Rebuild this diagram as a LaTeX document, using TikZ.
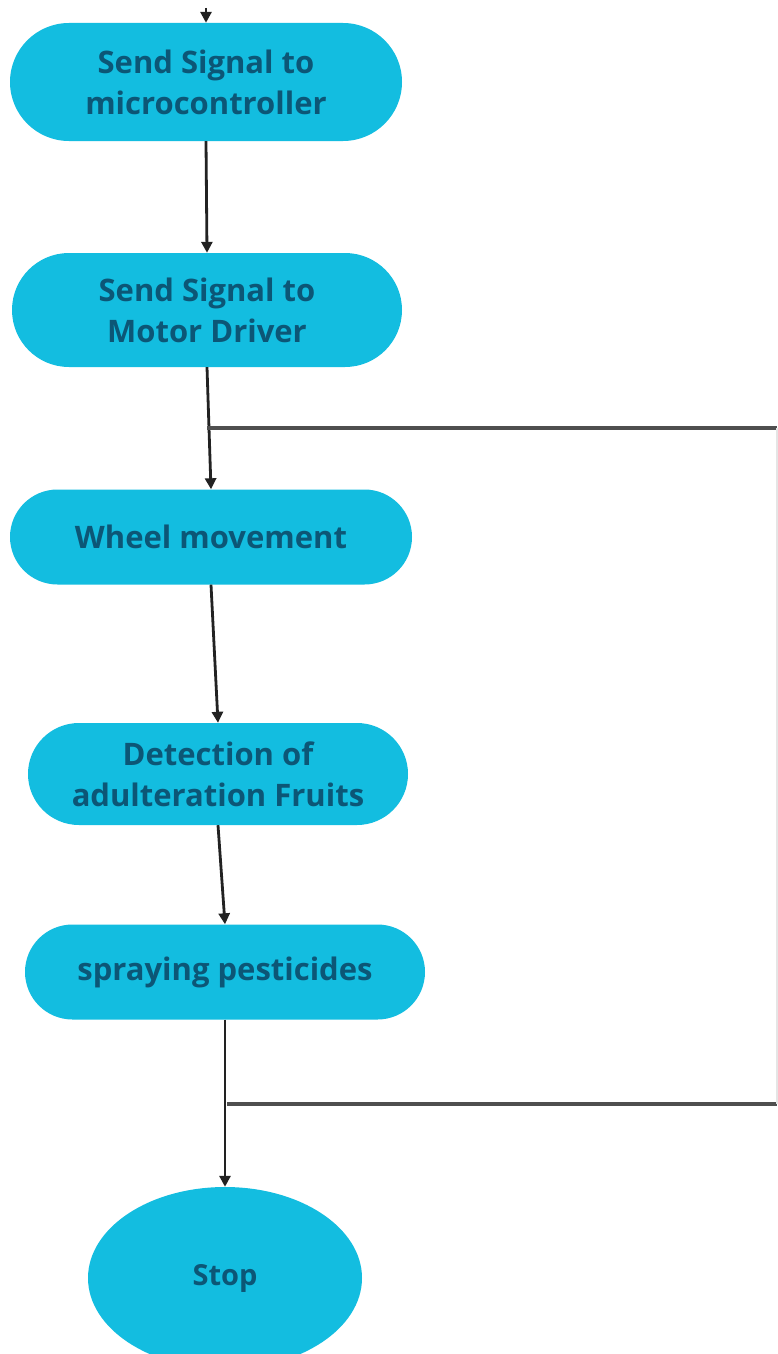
\documentclass[tikz,border=0pt]{standalone}
\usepackage{fontspec}
\setmainfont{Open Sans}
\usetikzlibrary{arrows.meta,shapes.misc,shapes.geometric}
\definecolor{boxfill}{HTML}{13BDE0}
\definecolor{boxtext}{HTML}{0C5676}
\definecolor{flowline}{HTML}{222222}
\definecolor{loopline}{HTML}{4F4F4F}
\begin{document}
\begin{tikzpicture}[x=1pt,y=-1pt,
  stepbox/.style={fill=boxfill, rounded rectangle, text=boxtext,
    font=\fontsize{31}{41}\selectfont\bfseries, align=center, inner sep=0pt},
  flow/.style={draw=flowline, line width=2.8pt,
    -{Triangle[length=11pt,width=11pt]}},
  loop/.style={draw=loopline, line width=3.4pt}]
\useasboundingbox (0,0) rectangle (777,1354);
\fill[white] (0,0) rectangle (777,1354);

% process steps
\node[stepbox, minimum width=392pt, minimum height=118pt] (n1) at (206,82)
  {Send Signal to\\microcontroller};
\node[stepbox, minimum width=390pt, minimum height=114pt] (n2) at (207,310)
  {Send Signal to\\Motor Driver};
\node[stepbox, minimum width=402pt, minimum height=95pt] (n3) at (211,537)
  {Wheel movement};
\node[stepbox, minimum width=380pt, minimum height=102pt] (n4) at (218,774)
  {Detection of\\adulteration Fruits};
\node[stepbox, minimum width=400pt, minimum height=95pt] (n5) at (225,972)
  {spraying pesticides};
\node[ellipse, fill=boxfill, text=boxtext, minimum width=274pt,
  minimum height=182pt, inner sep=0pt,
  font=\fontsize{29}{38}\selectfont\bfseries] (stop) at (225,1278) {Stop};

% connectors
\coordinate (top) at (206,8);
\coordinate (j1) at (207,428);
\coordinate (j2) at (227,1104);
\coordinate (r1) at (777,428);
\coordinate (r2) at (777,1104);

\draw[flow] (top) -- (n1.north);
\draw[flow] (n1.south) -- (n2.north);
\draw[flow] (n2.south) -- (n3.north);
\draw[flow] (n3.south) -- (n4.north);
\draw[flow] (n4.south) -- (n5.north);
\draw[flow] (n5.south) -- (stop.north);

% return path along the right side
\draw[loop] (j1) -- (r1);
\draw[loop] (j2) -- (r2);
\draw[draw=loopline!15, line width=3pt] (r1) -- (r2);
\end{tikzpicture}
\end{document}
